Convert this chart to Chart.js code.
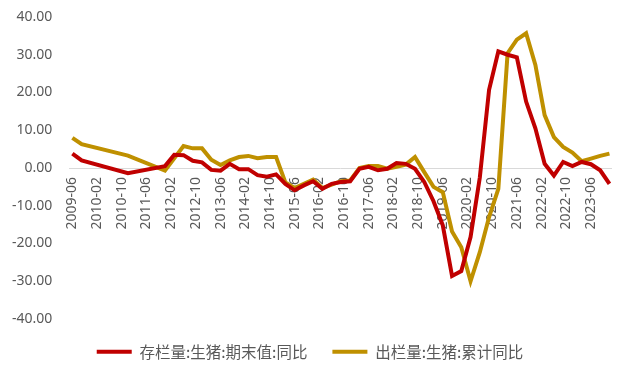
<!DOCTYPE html>
<html>
<head>
<meta charset="utf-8">
<script src="https://cdn.jsdelivr.net/npm/chart.js@4/dist/chart.umd.min.js"></script>
<style>
  html, body { margin: 0; padding: 0; background: #fff; }
</style>
</head>
<body>
<canvas id="pigChart" width="630" height="373"></canvas>
<script>
// quarterly points (the early years are sparse in the source)
const dates = [
  '2009-06', '2009-09', '2010-12', '2011-12',
  '2012-03', '2012-06', '2012-09', '2012-12',
  '2013-03', '2013-06', '2013-09', '2013-12',
  '2014-03', '2014-06', '2014-09', '2014-12',
  '2015-03', '2015-06', '2015-09', '2015-12',
  '2016-03', '2016-06', '2016-09', '2016-12',
  '2017-03', '2017-06', '2017-09', '2017-12',
  '2018-03', '2018-06', '2018-09', '2018-12',
  '2019-03', '2019-06', '2019-09', '2019-12',
  '2020-03', '2020-06', '2020-09', '2020-12',
  '2021-03', '2021-06', '2021-09', '2021-12',
  '2022-03', '2022-06', '2022-09', '2022-12',
  '2023-03', '2023-06', '2023-09', '2023-12'
];

// 存栏量:生猪:期末值:同比
const stockYoy = [
  3.8, 2.0, -1.4, 0.5,
  3.5, 3.4, 1.9, 1.5,
  -0.5, -0.7, 1.1, -0.3,
  -0.3, -1.9, -2.3, -1.7,
  -4.2, -5.9, -4.6, -3.5,
  -5.5, -4.2, -3.7, -3.5,
  -0.2, 0.3, -0.6, -0.2,
  1.3, 1.1, -0.2, -3.7,
  -8.8, -15.2, -28.6, -27.3,
  -18.3, -2.5, 20.7, 30.9,
  30.0, 29.3, 17.6, 10.5,
  1.1, -2.0, 1.6, 0.5,
  1.6, 1.0, -0.6, -4.2
];

// 出栏量:生猪:累计同比
const outputYoy = [
  8.0, 6.3, 3.3, -0.7,
  null, 5.8, 5.2, 5.2,
  2.2, 0.8, 2.0, 2.9,
  3.2, 2.6, 2.9, 2.9,
  -3.8, -5.3, -4.2, -3.1,
  -5.3, -4.4, -3.5, -3.3,
  0.0, 0.5, 0.5, -0.2,
  0.3, 0.9, 2.9, -1.1,
  -5.0, -6.4, -16.8, -21.0,
  -30.0, -22.3, -13.0, -5.5,
  30.4, 34.0, 35.7, 27.3,
  14.0, 8.2, 5.6, 4.1,
  1.8, 2.5, 3.2, 3.8
];

const tickLabels = [
  '2009-06', '2010-02', '2010-10', '2011-06', '2012-02', '2012-10',
  '2013-06', '2014-02', '2014-10', '2015-06', '2016-02', '2016-10',
  '2017-06', '2018-02', '2018-10', '2019-06', '2020-02', '2020-10',
  '2021-06', '2022-02', '2022-10', '2023-06'
];

const seriesNames = ['存栏量:生猪:期末值:同比', '出栏量:生猪:累计同比'];

// months counted from 2009-06
const monthIndex = s => {
  const [y, m] = s.split('-').map(Number);
  return (y - 2009) * 12 + (m - 6);
};
const monthLabel = v => {
  const t = Math.round(v) + 5;
  return (2009 + Math.floor(t / 12)) + '-' + String(t % 12 + 1).padStart(2, '0');
};
const toPoints = vals => dates.map((d, i) => ({ x: monthIndex(d), y: vals[i] }));

const txt = '#595959';
const font = { family: "'Noto Sans', 'Noto Sans CJK SC', sans-serif", size: 14 };

const ctx = document.getElementById('pigChart').getContext('2d');
new Chart(ctx, {
  type: 'line',
  data: {
    datasets: [{
      label: seriesNames[0],
      data: toPoints(stockYoy),
      borderColor: '#C00000',
      backgroundColor: '#C00000',
      borderWidth: 4,
      pointRadius: 0,
      pointStyle: 'line',
      spanGaps: true,
      tension: 0
    }, {
      label: seriesNames[1],
      data: toPoints(outputYoy),
      borderColor: '#BF9000',
      backgroundColor: '#BF9000',
      borderWidth: 4,
      pointRadius: 0,
      pointStyle: 'line',
      spanGaps: true,
      tension: 0
    }]
  },
  options: {
    responsive: false,
    animation: false,
    layout: { padding: { left: 9, right: 19, top: 17, bottom: 3.5 } },
    plugins: {
      tooltip: { enabled: false },
      legend: {
        position: 'bottom',
        maxHeight: 52,
        labels: {
          usePointStyle: true,
          pointStyle: 'line',
          pointStyleWidth: 35,
          padding: 25,
          color: txt,
          font: { family: "'Noto Sans CJK SC', sans-serif", size: 15.5 }
        }
      }
    },
    scales: {
      x: {
        type: 'linear',
        min: -1,
        max: 174.5,
        position: { y: 0 },
        afterBuildTicks: axis => {
          axis.ticks = tickLabels.map(l => ({ value: monthIndex(l) }));
        },
        ticks: {
          autoSkip: false,
          minRotation: 90,
          maxRotation: 90,
          padding: 0,
          color: txt,
          font: font,
          callback: v => monthLabel(v)
        },
        grid: { drawOnChartArea: false, tickLength: 9, tickColor: 'rgba(0,0,0,0)' },
        border: { display: true, color: '#D9D9D9', width: 1 }
      },
      y: {
        min: -40,
        max: 40,
        ticks: {
          stepSize: 10,
          padding: 3,
          color: txt,
          font: font,
          callback: v => v.toFixed(2)
        },
        // invisible tick marks keep the gap between labels and plot
        grid: { display: false, drawTicks: true, tickLength: 14 },
        border: { display: false }
      }
    }
  }
});
</script>
</body>
</html>
